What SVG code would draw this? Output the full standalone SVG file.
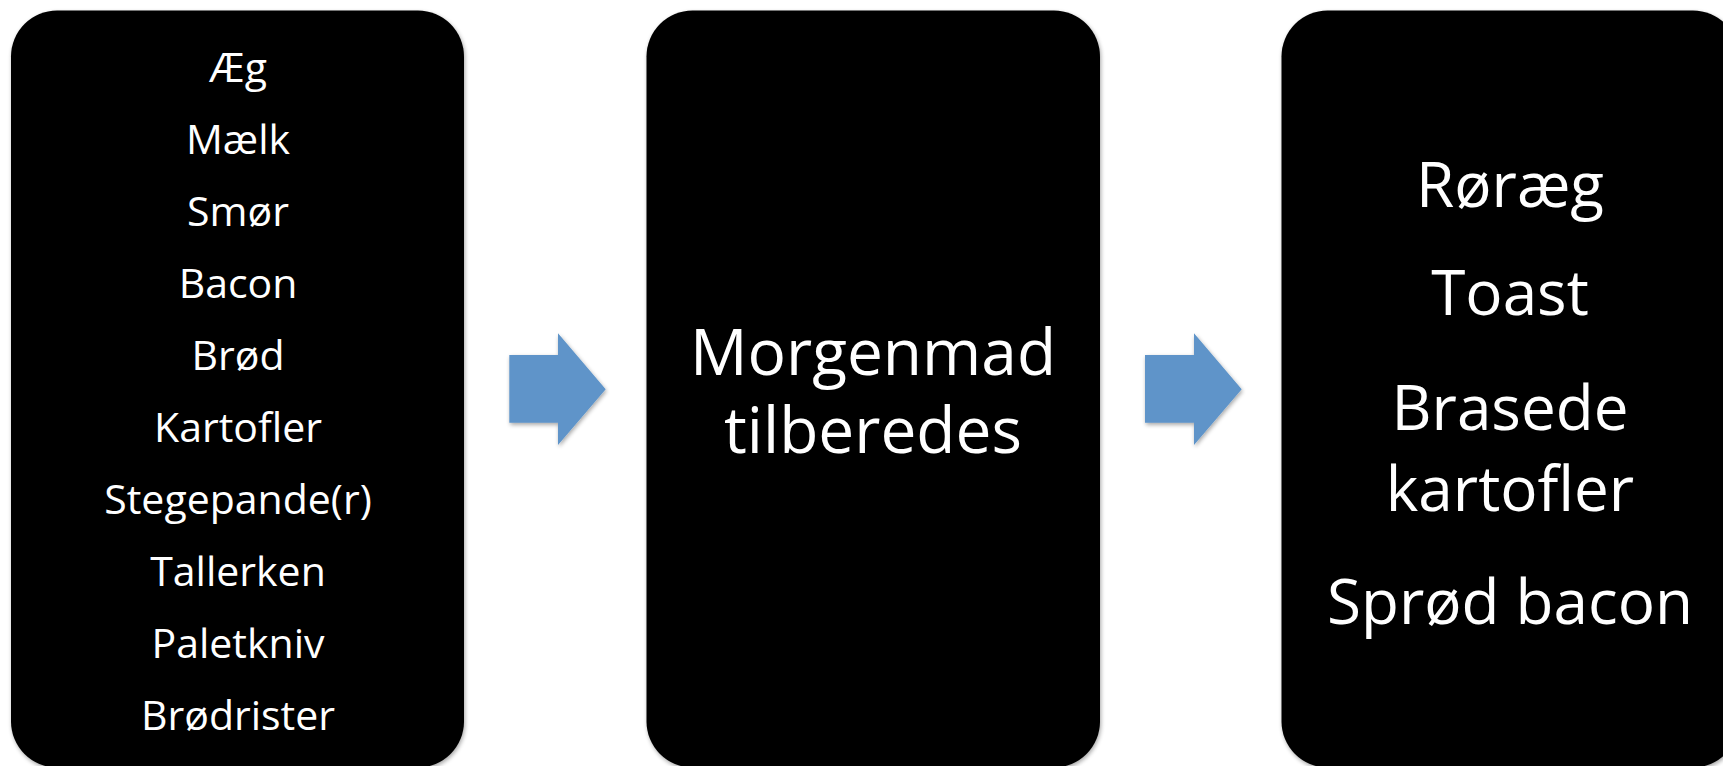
<svg xmlns="http://www.w3.org/2000/svg" width="1723" height="766" viewBox="0 0 1723 766">
<style>
.box{fill:#000000;}
.arrow{fill:#5E94C9;}
.t{fill:#ffffff;font-family:"Open Sans","Noto Sans","Liberation Sans",sans-serif;text-anchor:middle;}
.s1{font-size:41px;}
.s2{font-size:64px;}
.s3{font-size:62px;}
</style>
<defs>
<filter id="sh" x="-10%" y="-10%" width="120%" height="120%">
<feGaussianBlur in="SourceAlpha" stdDeviation="2"/>
<feOffset dx="1" dy="2" result="b"/>
<feComponentTransfer><feFuncA type="linear" slope="0.35"/></feComponentTransfer>
<feMerge><feMergeNode/><feMergeNode in="SourceGraphic"/></feMerge>
</filter>
</defs>
<rect width="1723" height="766" fill="#ffffff"/>
<g id="node-ingredients">
<rect class="box" x="11" y="10.5" width="453" height="757" rx="46" ry="46" filter="url(#sh)"/>
<text class="t s1" x="238" y="82">Æg</text>
<text class="t s1" x="238" y="154">Mælk</text>
<text class="t s1" x="238" y="226">Smør</text>
<text class="t s1" x="238" y="298">Bacon</text>
<text class="t s1" x="238" y="370">Brød</text>
<text class="t s1" x="238" y="441.5">Kartofler</text>
<text class="t s1" x="238" y="513.5">Stegepande(r)</text>
<text class="t s1" x="238" y="585.5">Tallerken</text>
<text class="t s1" x="238" y="657.5">Paletkniv</text>
<text class="t s1" x="238" y="729.5">Brødrister</text>
</g>
<g id="node-process">
<rect class="box" x="646.5" y="10.5" width="453.5" height="757" rx="46" ry="46" filter="url(#sh)"/>
<text class="t s2" x="873" y="375">Morgenmad</text>
<text class="t s2" x="873" y="453">tilberedes</text>
</g>
<g id="node-result">
<rect class="box" x="1281.5" y="10.5" width="457.5" height="757" rx="46" ry="46" filter="url(#sh)"/>
<text class="t s3" x="1510" y="207">Røræg</text>
<text class="t s3" x="1510" y="315">Toast</text>
<text class="t s3" x="1510" y="430">Brasede</text>
<text class="t s3" x="1510" y="511">kartofler</text>
<text class="t s3" x="1510" y="624">Sprød bacon</text>
</g>
<g id="connectors">
<polygon class="arrow" filter="url(#sh)" points="509.3,355 558,355 558,333.3 605.7,389.3 558,445 558,422.7 509.3,422.7"/>
<polygon class="arrow" filter="url(#sh)" points="1145,355 1194,355 1194,333.3 1241.7,389.3 1194,445 1194,422.7 1145,422.7"/>
</g>
</svg>
